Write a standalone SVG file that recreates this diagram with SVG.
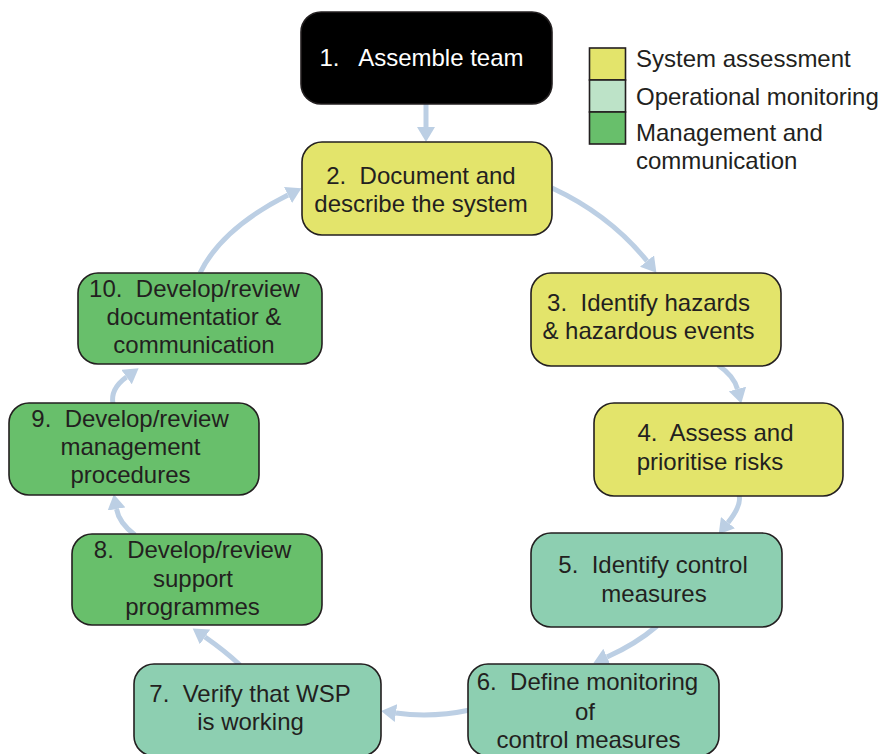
<svg xmlns="http://www.w3.org/2000/svg" width="880" height="754" viewBox="0 0 880 754">
<defs>
<style>
.box{stroke:#231f20;stroke-width:1.6}
.sa{fill:#e3e46b}
.om{fill:#8dcfb1}
.mc{fill:#68bf6b}
.t{font-family:"Liberation Sans",Arial,sans-serif;font-size:24px;fill:#231f20;text-anchor:middle;white-space:pre}
.lt{font-family:"Liberation Sans",Arial,sans-serif;font-size:24px;fill:#231f20}
.c{fill:none;stroke:#bccfe4;stroke-width:5}
</style>
<marker id="ah" markerUnits="userSpaceOnUse" markerWidth="16" markerHeight="18" refX="0" refY="9" orient="auto" viewBox="0 0 16 18">
<path d="M0,0 L15,9 L0,18 z" fill="#bccfe4"/>
</marker>
</defs>
<rect width="880" height="754" fill="#ffffff"/>
<g id="legend">
<rect x="589.5" y="48" width="36" height="32" class="box sa"/>
<rect x="589.5" y="80" width="36" height="32" class="box" fill="#bde3c8"/>
<rect x="589.5" y="112" width="36" height="32" class="box mc"/>
<text class="lt" x="636" y="67">System assessment</text>
<text class="lt" x="636" y="105">Operational monitoring</text>
<text class="lt" x="636" y="141">Management and</text>
<text class="lt" x="636" y="169">communication</text>
</g>
<g id="connectors">
<path class="c" d="M426,104 L426,127" marker-end="url(#ah)"/>
<path class="c" d="M552,188 Q610,215 647,261" marker-end="url(#ah)"/>
<path class="c" d="M718,365 Q734,376 737.4,389" marker-end="url(#ah)"/>
<path class="c" d="M739,495 Q742,505 728,522.6" marker-end="url(#ah)"/>
<path class="c" d="M657,626 Q636,644 607,657" marker-end="url(#ah)"/>
<path class="c" d="M470,710 Q432,718 396,713" marker-end="url(#ah)"/>
<path class="c" d="M240,665 Q225,651 205,637" marker-end="url(#ah)"/>
<path class="c" d="M135,535 Q119,523 116.5,509" marker-end="url(#ah)"/>
<path class="c" d="M113,404 Q110,389 126.5,377" marker-end="url(#ah)"/>
<path class="c" d="M200,273 Q222,228 288,195" marker-end="url(#ah)"/>
</g>
<g id="n1">
<rect x="301" y="12" width="251" height="92" rx="20" fill="#000000" stroke="#231f20" stroke-width="1.6"/>
<text class="t" x="421.5" y="66" style="fill:#ffffff">1.   Assemble team</text>
</g>
<g id="n2">
<rect x="302" y="142" width="250" height="93" rx="20" class="box sa"/>
<text class="t" x="421" y="184">2.  Document and</text>
<text class="t" x="421" y="212">describe the system</text>
</g>
<g id="n3">
<rect x="531" y="273" width="250" height="93" rx="20" class="box sa"/>
<text class="t" x="648.5" y="311">3.  Identify hazards</text>
<text class="t" x="648.5" y="339">&amp; hazardous events</text>
</g>
<g id="n4">
<rect x="594" y="403" width="249" height="93" rx="20" class="box sa"/>
<text class="t" x="715.5" y="441">4.  Assess and</text>
<text class="t" x="710" y="470">prioritise risks</text>
</g>
<g id="n5">
<rect x="531" y="533" width="251" height="94" rx="20" class="box om"/>
<text class="t" x="653" y="573">5.  Identify control</text>
<text class="t" x="654" y="602">measures</text>
</g>
<g id="n6">
<rect x="468" y="664" width="251" height="92" rx="20" class="box om"/>
<text class="t" x="587.5" y="690">6.  Define monitoring</text>
<text class="t" x="585" y="720">of</text>
<text class="t" x="588.5" y="748">control measures</text>
</g>
<g id="n7">
<rect x="134" y="664" width="247" height="92" rx="20" class="box om"/>
<text class="t" x="250" y="702">7.  Verify that WSP</text>
<text class="t" x="250.5" y="730">is working</text>
</g>
<g id="n8">
<rect x="72" y="534" width="250" height="91" rx="20" class="box mc"/>
<text class="t" x="192.5" y="558">8.  Develop/review</text>
<text class="t" x="193" y="587">support</text>
<text class="t" x="192.5" y="615">programmes</text>
</g>
<g id="n9">
<rect x="9" y="403" width="250" height="92" rx="20" class="box mc"/>
<text class="t" x="130" y="427">9.  Develop/review</text>
<text class="t" x="130.5" y="455">management</text>
<text class="t" x="130.5" y="483">procedures</text>
</g>
<g id="n10">
<rect x="78" y="273" width="244" height="91" rx="20" class="box mc"/>
<text class="t" x="194.5" y="297">10.  Develop/review</text>
<text class="t" x="194" y="325">documentatior &amp;</text>
<text class="t" x="194" y="353">communication</text>
</g>
</svg>
